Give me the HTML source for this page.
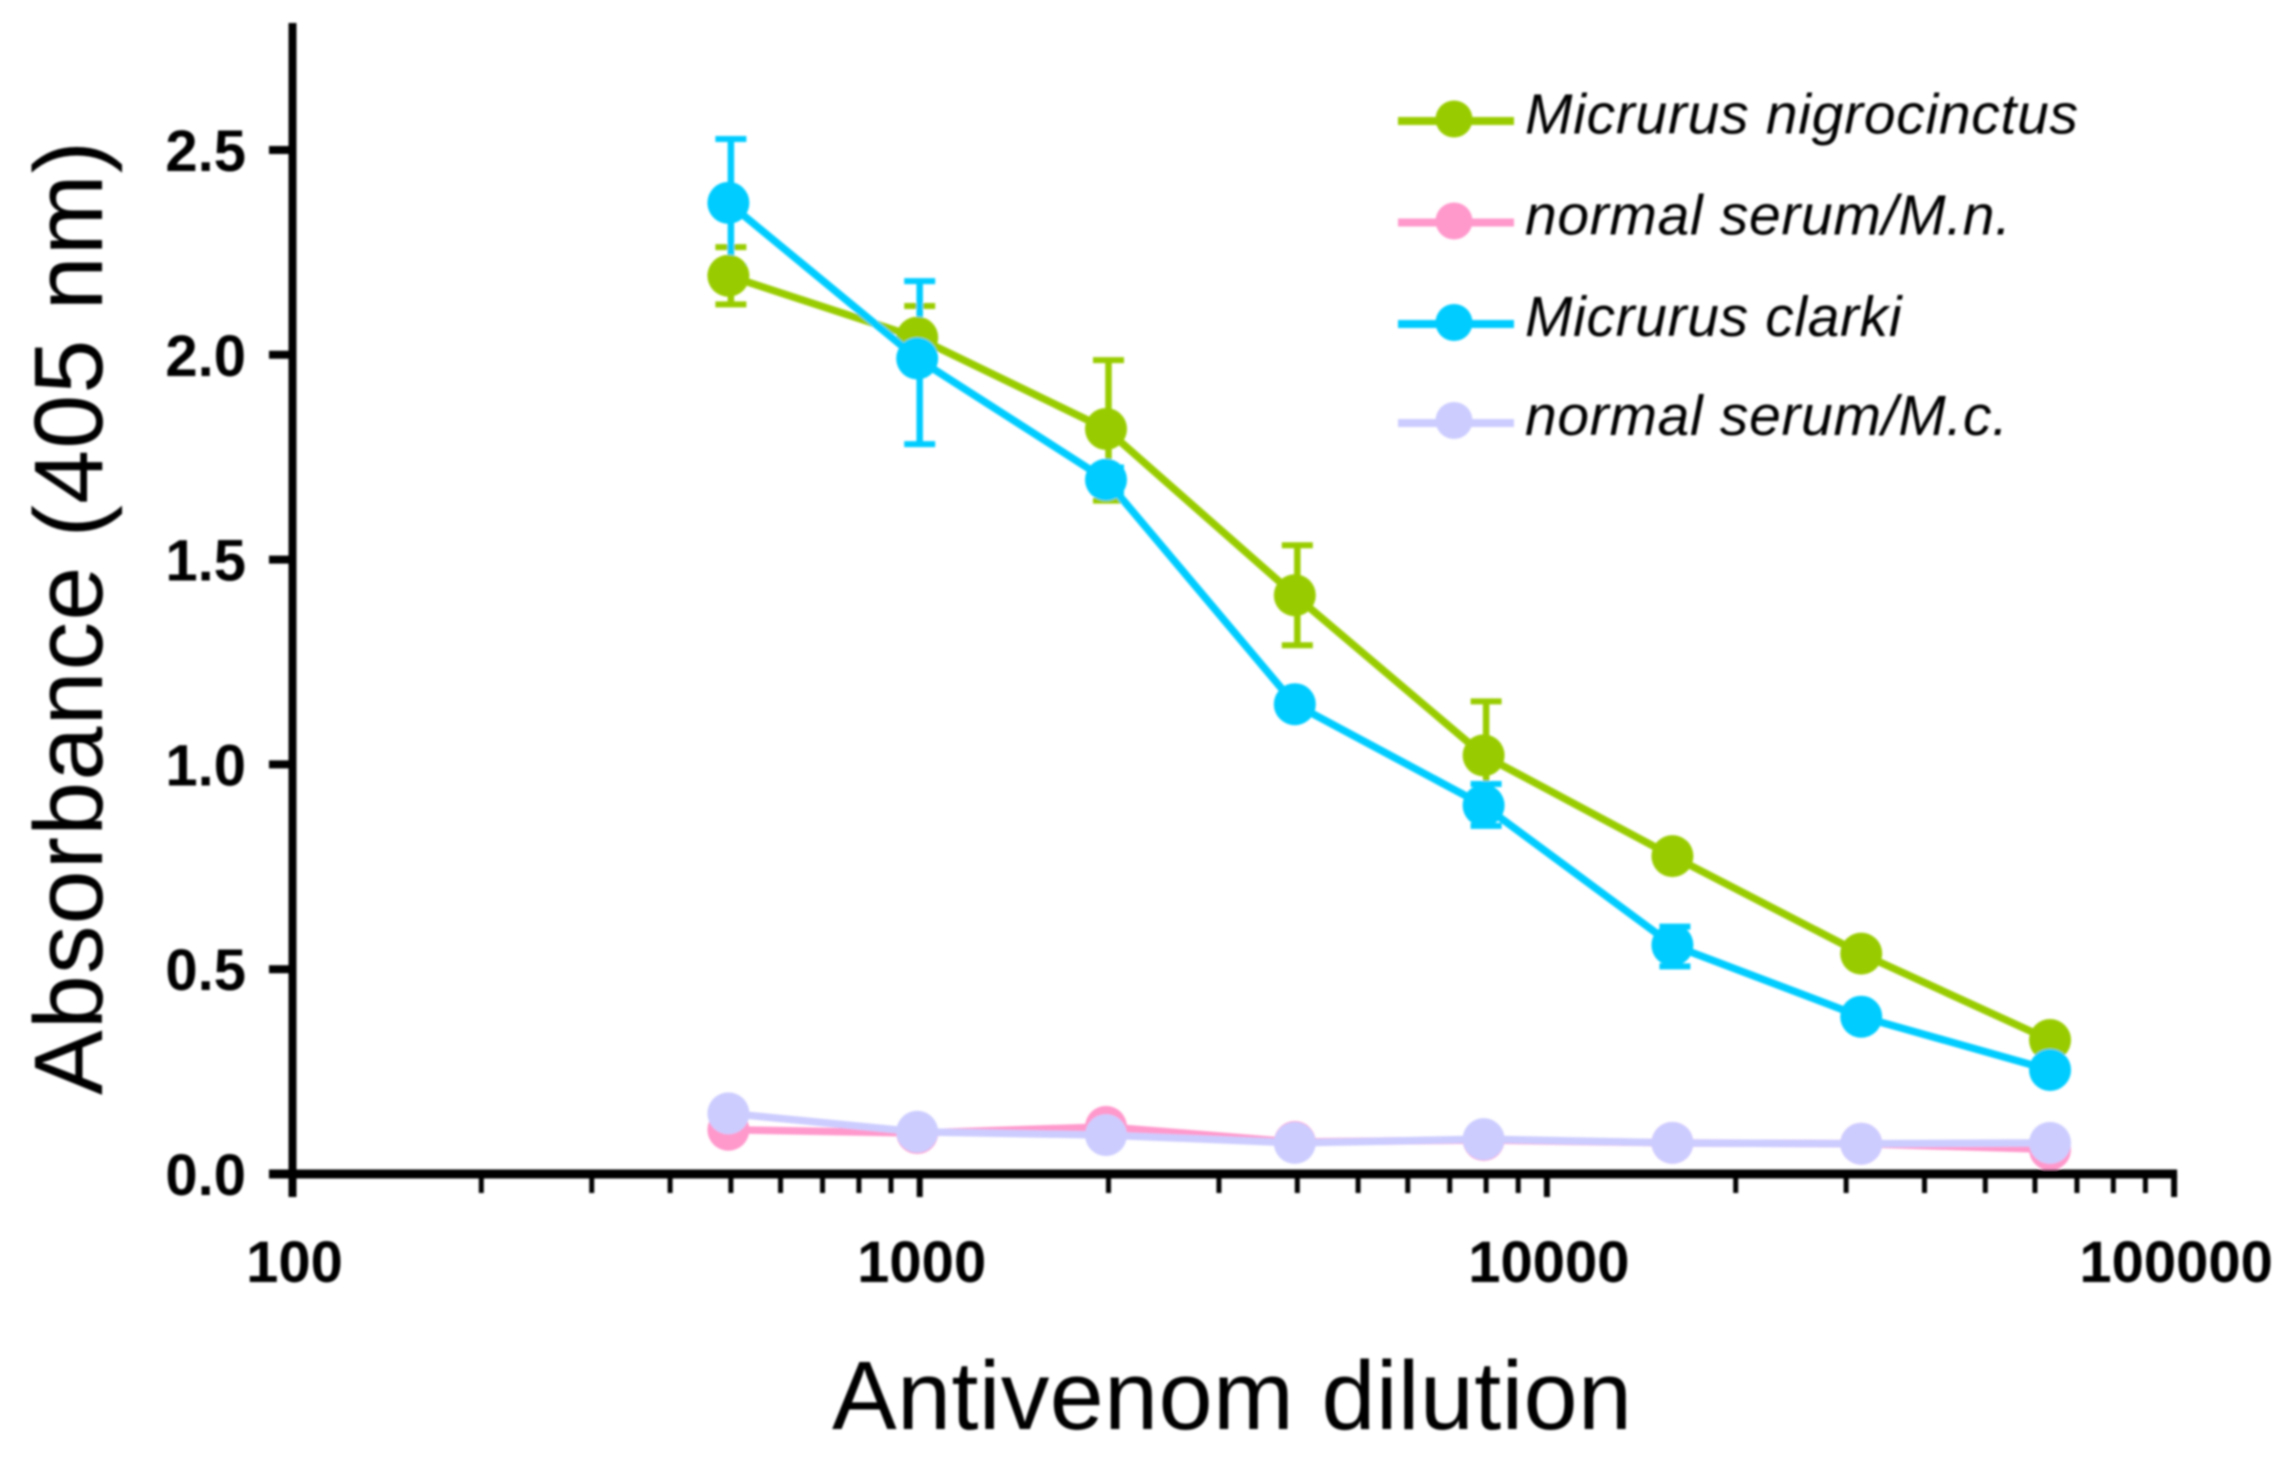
<!DOCTYPE html>
<html lang="en">
<head>
<meta charset="utf-8">
<title>Absorbance vs antivenom dilution</title>
<style>
html,body{margin:0;padding:0;background:#fff;width:2283px;height:1471px;overflow:hidden}
svg{display:block}
text{font-family:"Liberation Sans",sans-serif;fill:#000}
</style>
</head>
<body>
<svg id="chart" xmlns="http://www.w3.org/2000/svg" width="2283" height="1471" viewBox="0 0 2283 1471">
  <defs><filter id="soft" x="-2%" y="-2%" width="104%" height="104%"><feGaussianBlur stdDeviation="1"/></filter></defs>
  <rect width="2283" height="1471" fill="#fff"/>
  <g id="root" filter="url(#soft)">
    <g id="errors"></g>
    <g id="series"></g>
    <g id="axes"></g>
    <text x="832" y="1429" font-size="97" textLength="800" lengthAdjust="spacing">Antivenom dilution</text>
    <text transform="translate(102,1095) rotate(-90)" x="0" y="0" font-size="97" textLength="954" lengthAdjust="spacing">Absorbance (405 nm)</text>
    <g>
      <g>
        <line x1="1398" x2="1514" y1="121" y2="121" stroke="#99CC00" stroke-width="8"/>
        <circle cx="1454" cy="119" r="18.5" fill="#99CC00"/>
        <text x="1525" y="133.5" font-size="57" font-style="italic" textLength="553" lengthAdjust="spacing">Micrurus nigrocinctus</text>
      </g>
      <g>
        <line x1="1398" x2="1514" y1="222.5" y2="222.5" stroke="#FF99CC" stroke-width="8"/>
        <circle cx="1454" cy="221" r="18.5" fill="#FF99CC"/>
        <text x="1525" y="234.5" font-size="57" font-style="italic" textLength="486" lengthAdjust="spacing">normal serum/M.n.</text>
      </g>
      <g>
        <line x1="1398" x2="1514" y1="324" y2="324" stroke="#00CCFF" stroke-width="8"/>
        <circle cx="1454" cy="322.5" r="18.5" fill="#00CCFF"/>
        <text x="1525" y="336" font-size="57" font-style="italic" textLength="376.5" lengthAdjust="spacing">Micrurus clarki</text>
      </g>
      <g>
        <line x1="1398" x2="1514" y1="423" y2="423" stroke="#CCCCFF" stroke-width="8"/>
        <circle cx="1454" cy="420.5" r="18.5" fill="#CCCCFF"/>
        <text x="1525" y="435" font-size="57" font-style="italic" textLength="483" lengthAdjust="spacing">normal serum/M.c.</text>
      </g>
    </g>
  </g>
</svg>
<script>
// ---- chart data ----
const dilutions = [500, 1000, 2000, 4000, 8000, 16000, 32000, 64000];
const nigrocinctusValues = [2.193, 2.042, 1.819, 1.413, 1.022, 0.776, 0.538, 0.327];
const nigrocinctusErrorsUp = [0.070, 0.077, 0.168, 0.122, 0.132, 0.000, 0.000, 0.000];
const nigrocinctusErrorsDown = [0.070, 0.077, 0.175, 0.122, 0.132, 0.000, 0.000, 0.000];
const normalMnValues = [0.108, 0.100, 0.115, 0.078, 0.083, 0.076, 0.074, 0.060];
const clarkiValues = [2.371, 1.991, 1.695, 1.147, 0.900, 0.559, 0.384, 0.254];
const clarkiErrorsUp = [0.156, 0.189, 0.030, 0.000, 0.052, 0.045, 0.000, 0.000];
const clarkiErrorsDown = [0.156, 0.209, 0.030, 0.000, 0.050, 0.052, 0.000, 0.000];
const normalMcValues = [0.148, 0.103, 0.095, 0.076, 0.085, 0.076, 0.074, 0.076];
const yTickValues = [0, 0.5, 1.0, 1.5, 2.0, 2.5];
const yTickLabels = ['0.0', '0.5', '1.0', '1.5', '2.0', '2.5'];
const xDecades = [100, 1000, 10000, 100000];
const xDecadeLabels = ['100', '1000', '10000', '100000'];

// ---- axis functions ----
function xScale(v) { return 292.5 + 627.2 * (Math.log10(v) - 2); }
function yScale(v) { return 1174 - 409.6 * v; }

const NS = 'http://www.w3.org/2000/svg';
const errorsG = document.getElementById('errors');
const seriesG = document.getElementById('series');
const axesG = document.getElementById('axes');

function line(parent, name, x1, y1, x2, y2, color, width) {
  const el = document.createElementNS(NS, 'line');
  
  
  el.setAttribute('x1', x1);
  el.setAttribute('y1', y1);
  el.setAttribute('x2', x2);
  el.setAttribute('y2', y2);
  el.setAttribute('stroke', color);
  el.setAttribute('stroke-width', width);
  parent.appendChild(el);
  return el;
}
function label(name, x, y, anchor, str) {
  const el = document.createElementNS(NS, 'text');
  
  
  el.setAttribute('x', x);
  el.setAttribute('y', y);
  el.setAttribute('text-anchor', anchor);
  el.setAttribute('font-size', '58');
  el.setAttribute('font-weight', 'bold');
  el.textContent = str;
  axesG.appendChild(el);
}
function errorBars(key, values, up, down, color) {
  dilutions.forEach(function (d, i) {
    if (!up[i] && !down[i]) return;
    const x = xScale(d);
    const hi = yScale(values[i] + up[i]);
    const lo = yScale(values[i] - down[i]);
    line(errorsG, 'error-stem-' + key + '-' + d, x, hi, x, lo, color, 6.5);
    line(errorsG, 'error-cap-top-' + key + '-' + d, x - 15.5, hi, x + 15.5, hi, color, 6);
    line(errorsG, 'error-cap-bottom-' + key + '-' + d, x - 15.5, lo, x + 15.5, lo, color, 6);
  });
}
function drawSeries(key, values, color) {
  const path = document.createElementNS(NS, 'polyline');
  
  
  path.setAttribute('fill', 'none');
  path.setAttribute('stroke', color);
  path.setAttribute('stroke-width', '7.5');
  path.setAttribute('stroke-linejoin', 'round');
  path.setAttribute('points', dilutions.map(function (d, i) {
    return (xScale(d) - 2.5) + ',' + yScale(values[i]);
  }).join(' '));
  seriesG.appendChild(path);
  dilutions.forEach(function (d, i) {
    const c = document.createElementNS(NS, 'circle');
    
    
    c.setAttribute('cx', xScale(d) - 2.5);
    c.setAttribute('cy', yScale(values[i]));
    c.setAttribute('r', '21');
    c.setAttribute('fill', color);
    seriesG.appendChild(c);
  });
}

errorBars('micrurus-nigrocinctus', nigrocinctusValues, nigrocinctusErrorsUp, nigrocinctusErrorsDown, '#99CC00');
errorBars('micrurus-clarki', clarkiValues, clarkiErrorsUp, clarkiErrorsDown, '#00CCFF');
drawSeries('micrurus-nigrocinctus', nigrocinctusValues, '#99CC00');
drawSeries('normal-serum-mn', normalMnValues, '#FF99CC');
drawSeries('micrurus-clarki', clarkiValues, '#00CCFF');
drawSeries('normal-serum-mc', normalMcValues, '#CCCCFF');

// axes
line(axesG, 'y-axis-line', xScale(100), 23, xScale(100), 1197, '#000', 8);
line(axesG, 'x-axis-line', 269, yScale(0), xScale(100000) + 3, yScale(0), '#000', 9);
yTickValues.forEach(function (v, i) {
  line(axesG, 'y-tick-' + yTickLabels[i], 269, yScale(v), xScale(100), yScale(v), '#000', 8);
  label('y-tick-label-' + yTickLabels[i], 246, yScale(v) + 21, 'end', yTickLabels[i]);
});
xDecades.forEach(function (dec, i) {
  line(axesG, 'x-major-tick-' + dec, xScale(dec), yScale(0), xScale(dec), 1197, '#000', 6);
  label('x-tick-label-' + dec, xScale(dec) + 2, 1282, 'middle', xDecadeLabels[i]);
  if (i < xDecades.length - 1) {
    for (let m = 2; m <= 9; m++) {
      line(axesG, 'x-minor-tick-' + (dec * m), xScale(dec * m), yScale(0), xScale(dec * m), 1193, '#000', 5);
    }
  }
});
</script>
</body>
</html>
